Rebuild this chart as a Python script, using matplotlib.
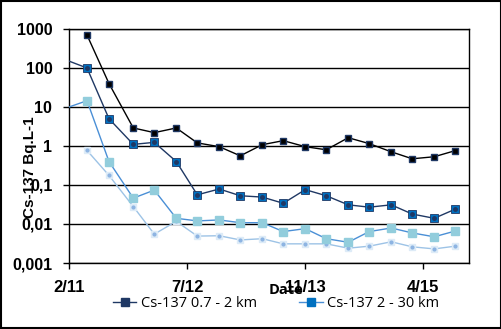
import pandas as pd
import matplotlib
matplotlib.use('Agg')
import matplotlib.pyplot as plt
from matplotlib.lines import Line2D
from matplotlib.patches import Rectangle

# sampling dates (quarterly)
dates = pd.to_datetime([
    '2011-02-20', '2011-05-08', '2011-08-10', '2011-11-22', '2012-02-20',
    '2012-05-24', '2012-08-22', '2012-11-24', '2013-02-22', '2013-05-27',
    '2013-08-25', '2013-11-27', '2014-02-25', '2014-05-30', '2014-08-28',
    '2014-11-30', '2015-02-28', '2015-06-02', '2015-08-31'])

# Cs-137 activity (Bq/L), None = no sample
cs_near = [None, 700, 40, 2.9, 2.2, 2.9, 1.2, 0.96, 0.56, 1.08,
           1.37, 0.96, 0.80, 1.63, 1.15, 0.71, 0.47, 0.53, 0.76]
cs_07_2 = [150, 100, 5.0, 1.1, 1.24, 0.40, 0.056, 0.079, 0.053, 0.049,
           0.034, 0.076, 0.053, 0.031, 0.027, 0.031, 0.018, 0.014, 0.024]
cs_2_30 = [10, 14.5, 0.40, 0.046, 0.074, 0.014, 0.012, 0.0127, 0.0108, 0.0108,
           0.0064, 0.0076, 0.0042, 0.0034, 0.0064, 0.0079, 0.0059, 0.0047, 0.0066]
cs_far = [None, 0.77, 0.176, 0.028, 0.0055, 0.0117, 0.0049, 0.0050, 0.0039, 0.0042,
          0.0031, 0.0031, 0.0031, 0.0024, 0.0027, 0.0035, 0.0026, 0.0023, 0.0027]

tick_dates = pd.to_datetime(['2011-02-20', '2012-07-09', '2013-11-26', '2015-04-15'])
tick_labels = ['2/11', '7/12', '11/13', '4/15']
y_ticks = [0.001, 0.01, 0.1, 1, 10, 100, 1000]
y_labels = ['0,001', '0,01', '0,1', '1', '10', '100', '1000']

s_near = pd.Series(cs_near, index=dates, dtype=float).dropna()
s_072 = pd.Series(cs_07_2, index=dates, dtype=float)
s_230 = pd.Series(cs_2_30, index=dates, dtype=float)
s_far = pd.Series(cs_far, index=dates, dtype=float).dropna()

# first sample sits on the axis edge: line only, no marker
skip_first = list(range(1, len(dates)))

fig = plt.figure(figsize=(5.02, 3.29), dpi=100)
ax = fig.add_axes([0.1375, 0.2006, 0.7968, 0.7113])

ax.plot(s_far.index, s_far.values, color='#9dc3e6', lw=1, marker='s', ms=5,
        mfc='#ddebf7', mec='#ddebf7', zorder=3)
ax.plot(s_far.index, s_far.values, ls='none', marker='o', ms=2,
        color='#8db4e2', zorder=3)
ax.plot(s_230.index, s_230.values, color='#4a8fd6', lw=1, marker='s', ms=5.3,
        mfc='#92cddc', mec='#92cddc', markevery=skip_first, zorder=4)
ax.plot(s_072.index, s_072.values, color='#1f3864', lw=1, marker='s', ms=5.3,
        mfc='#0070c0', mec='#1f3864', mew=0.6, markevery=skip_first, zorder=5)
ax.plot(s_072.index[1:], s_072.values[1:], ls='none', marker='o', ms=2.5,
        color='#1f3864', zorder=5)
ax.plot(s_near.index, s_near.values, color='black', lw=1, marker='s', ms=4.6,
        mfc='black', mec='#1f3864', zorder=6)

ax.set_yscale('log')
ax.set_ylim(0.001, 1000)
ax.set_xlim(pd.Timestamp('2011-02-20'), pd.Timestamp('2015-10-29'))
ax.set_yticks(y_ticks)
ax.set_yticklabels(y_labels)
ax.minorticks_off()
ax.set_xticks(tick_dates)
ax.set_xticklabels(tick_labels)
ax.grid(axis='y', color='black', lw=1)
ax.set_axisbelow(True)
for sp in ax.spines.values():
    sp.set_color('black')
    sp.set_linewidth(1)
ax.tick_params(axis='y', length=4, width=1, direction='out', pad=8, labelsize=11.5)
ax.tick_params(axis='x', length=4, width=1, direction='out', pad=8, labelsize=12)
for lab in ax.get_xticklabels() + ax.get_yticklabels():
    lab.set_fontweight('bold')
    lab.set_family('Liberation Sans')

fig.text(0.06, 0.493, 'Cs-137 Bq.L-1', rotation=90, ha='center', va='center',
         fontsize=11, fontweight='bold',
         family=['Liberation Sans Narrow', 'Liberation Sans'])
fig.text(0.57, 0.118, 'Date', ha='center', va='center', fontsize=10.5,
         fontweight='bold', family='Open Sans')

handles = [
    Line2D([], [], color='#1f3864', lw=1, marker='s', ms=5.5, mfc='#1f3864', mec='#1f3864'),
    Line2D([], [], color='#4a8fd6', lw=1, marker='s', ms=5.5, mfc='#0070c0', mec='#0070c0'),
]
fig.legend(handles, ['Cs-137 0.7 - 2 km', 'Cs-137 2 - 30 km'], loc='center',
           bbox_to_anchor=(0.55, 0.076), ncol=2, frameon=False, columnspacing=2.9,
           handlelength=1.6, handletextpad=0.3, prop={'family': 'Open Sans', 'size': 10.5})

fig.patches.append(Rectangle((0.002, 0.003), 0.996, 0.994, transform=fig.transFigure,
                             fill=False, edgecolor='black', lw=1.5))

fig.savefig('out.png', dpi=100)
